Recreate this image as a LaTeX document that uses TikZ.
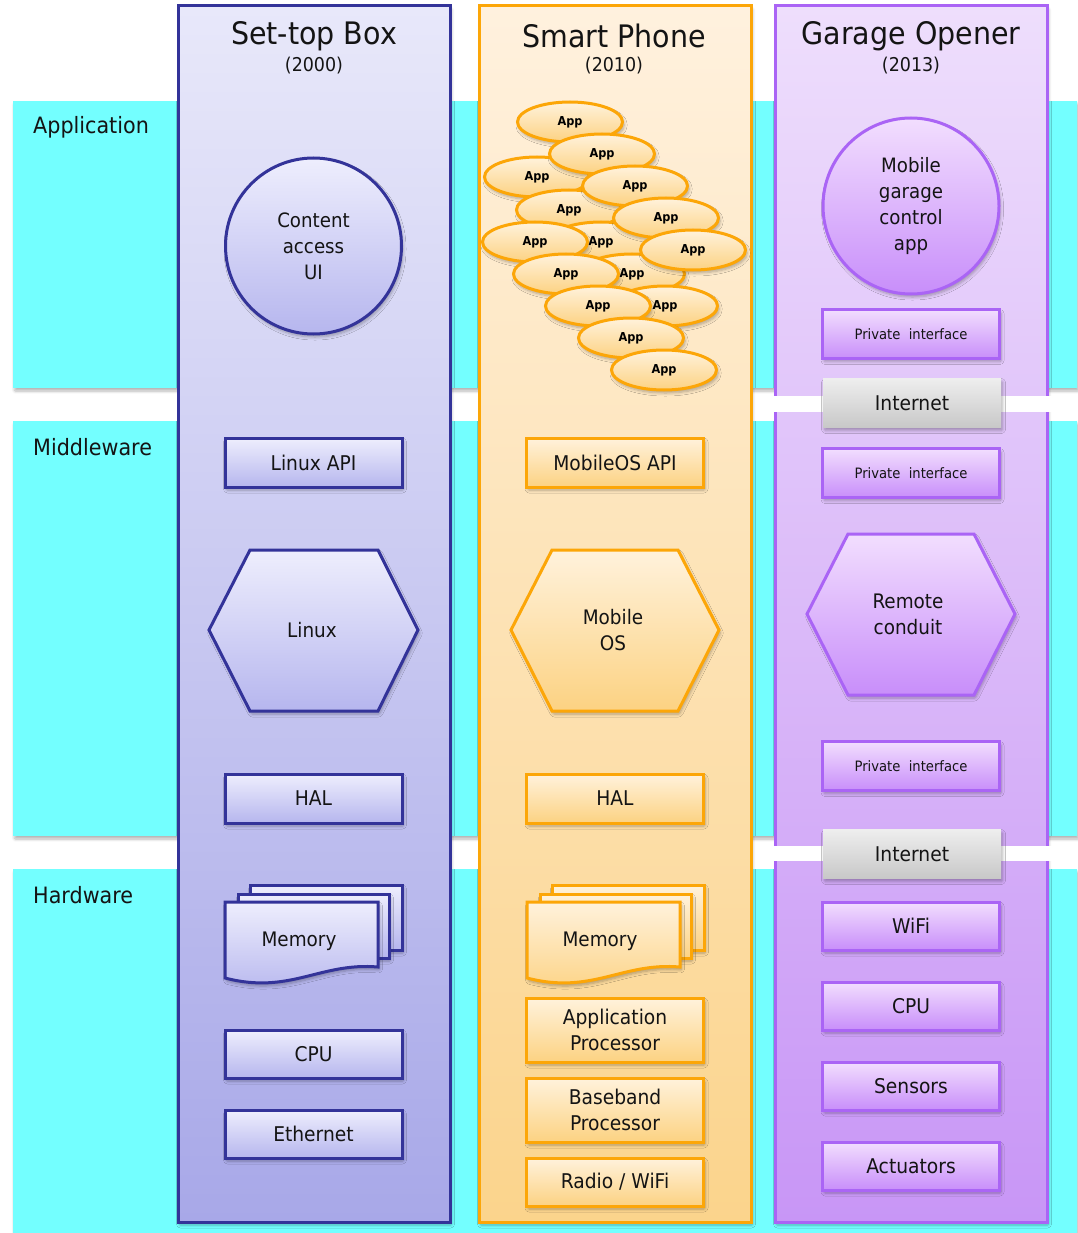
\documentclass[tikz,border=0pt]{standalone}
\usepackage{fontspec}
\setmainfont{DejaVu Sans}[FakeStretch=0.92]
\usetikzlibrary{shadows,shadows.blur,shapes.geometric}

\definecolor{bandcyan}{RGB}{115,255,255}
\definecolor{txt}{RGB}{20,20,20}
\definecolor{stbB}{RGB}{51,51,153}
\definecolor{stbT}{RGB}{232,232,250}
\definecolor{stbBot}{RGB}{168,168,232}
\definecolor{bbT}{RGB}{238,238,253}
\definecolor{bbB}{RGB}{182,182,238}
\definecolor{orB}{RGB}{252,166,8}
\definecolor{phT}{RGB}{255,241,222}
\definecolor{phBot}{RGB}{251,212,140}
\definecolor{obT}{RGB}{255,242,220}
\definecolor{obB}{RGB}{252,210,130}
\definecolor{puB}{RGB}{170,100,245}
\definecolor{gaT}{RGB}{238,222,252}
\definecolor{gaBot}{RGB}{200,150,246}
\definecolor{pbT}{RGB}{242,222,254}
\definecolor{pbB}{RGB}{200,142,250}
\definecolor{inT}{RGB}{238,238,238}
\definecolor{inB}{RGB}{200,200,200}

\begin{document}
\begin{tikzpicture}[x=1pt,y=-1pt,
  shad/.style={blur shadow={shadow blur steps=6,shadow blur extra rounding=1pt,shadow xshift=1.5pt,shadow yshift=-3pt,shadow opacity=30,shadow blur radius=3pt}},
  band/.style={fill=bandcyan,shad},
  bandlbl/.style={anchor=west,inner sep=0pt,text=txt,font=\fontsize{22.5}{26}\selectfont},
  coltitle/.style={text=txt,inner sep=0pt,font=\fontsize{31}{34}\selectfont},
  colyear/.style={text=txt,inner sep=0pt,font=\fontsize{19}{22}\selectfont},
  stbcol/.style={line width=3pt,shad,draw=stbB,top color=stbT,bottom color=stbBot},
  phcol/.style={line width=3pt,shad,draw=orB,top color=phT,bottom color=phBot},
  gacol/.style={line width=3pt,shad,draw=puB,top color=gaT,bottom color=gaBot},
  box/.style={rectangle,line width=3pt,minimum height=49pt,minimum width=177pt,inner sep=0pt,
    align=center,text=txt,font=\fontsize{20.3}{26}\selectfont,shad},
  bbox/.style={box,draw=stbB,top color=bbT,bottom color=bbB},
  obox/.style={box,draw=orB,top color=obT,bottom color=obB},
  pbox/.style={box,draw=puB,top color=pbT,bottom color=pbB},
  pint/.style={pbox,font=\fontsize{14.3}{16}\selectfont},
  inet/.style={box,draw=none,top color=inT,bottom color=inB,minimum width=178pt},
  circ/.style={circle,minimum size=176pt,line width=3pt,inner sep=0pt,align=center,text=txt,
    font=\fontsize{19.8}{26}\selectfont,shad},
  bshape/.style={line width=3pt,draw=stbB,top color=bbT,bottom color=bbB,shad},
  oshape/.style={line width=3pt,draw=orB,top color=obT,bottom color=obB,shad},
  pshape/.style={line width=3pt,draw=puB,top color=pbT,bottom color=pbB,shad},
  lbl/.style={inner sep=0pt,align=center,text=txt,font=\fontsize{20}{26}\selectfont},
  app/.style={ellipse,minimum width=105pt,minimum height=40pt,inner sep=0pt,draw=orB,line width=3pt,
    top color=obT,bottom color=obB,shad,text=black,font=\bfseries\fontsize{12.3}{14}\selectfont}
]
\useasboundingbox (0,0) rectangle (1077,1233);

% ---------- layer bands ----------
\path[band] (13,101) rectangle (1077,388);
\path[band] (13,421) rectangle (1077,836);
\path[band] (13,869) rectangle (1077,1233);
\node[bandlbl] (lapp) at (33,127) {Application};
\node[bandlbl] (lmid) at (33,447) {Middleware};
\node[bandlbl] (lhw) at (33,895) {Hardware};

% ---------- columns ----------
\path[stbcol] (178,6) rectangle (450,1222);
\path[phcol] (479,6) rectangle (751,1222);
\path[gacol] (775,6) rectangle (1047,1222);

% white internet bars
\fill[white] (765,396) rectangle (1054,412);
\fill[white] (765,846) rectangle (1054,861);

% ---------- titles ----------
\node[coltitle] (t1) at (314,36) {Set-top Box};
\node[colyear] (y1) at (314,66) {(2000)};
\node[coltitle] (t2) at (614,36) {Smart Phone};
\node[colyear] (y2) at (614,66) {(2010)};
\node[coltitle] (t3) at (911,36) {Garage Opener};
\node[colyear] (y3) at (911,66) {(2013)};

% ---------- Set-top box ----------
\node[circ,draw=stbB,top color=bbT,bottom color=bbB] (cau) at (313.5,246) {Content\\access\\UI};
\node[bbox] (lapi) at (313.5,462.5) {Linux API};
\path[bshape] (209,630) -- (250,550) -- (378,550) -- (418,630) -- (378,711) -- (250,711) -- cycle;
\node[lbl] (linux) at (312,630) {Linux};
\node[bbox] (hal1) at (313.5,798.5) {HAL};
\path[bshape] (250,885) rectangle (402,950);
\path[bshape] (238,894) rectangle (389,958);
\path[bshape] (225,902) -- (378,902) -- (378,967) .. controls (320,962) and (290,995) .. (225,978) -- cycle;
\node[lbl] (mem1) at (299,941) {Memory};
\node[bbox,minimum height=48pt] (cpu1) at (313.5,1054) {CPU};
\node[bbox,minimum height=48pt] (eth1) at (313.5,1134) {Ethernet};

% ---------- Smart phone ----------
\node[app] (a1) at (570,122) {App};
\node[app] (a3) at (537,177) {App};
\node[app] (a2) at (602,154) {App};
\node[app] (a5) at (569,210) {App};
\node[app] (a4) at (635,186) {App};
\node[app] (a8) at (601,242) {App};
\node[app] (a6) at (666,218) {App};
\node[app] (a7) at (535,242) {App};
\node[app] (a11) at (632,274) {App};
\node[app] (a9) at (693,250) {App};
\node[app] (a10) at (566,274) {App};
\node[app] (a13) at (665,306) {App};
\node[app] (a12) at (598,306) {App};
\node[app] (a14) at (631,338) {App};
\node[app] (a15) at (664,370) {App};

\node[obox] (mapi) at (615,462.5) {MobileOS API};
\path[oshape] (511,630) -- (552,550) -- (678,550) -- (719,630) -- (678,711) -- (552,711) -- cycle;
\node[lbl] (mos) at (613,630) {Mobile\\OS};
\node[obox] (hal2) at (615,798.5) {HAL};
\path[oshape] (552,885) rectangle (704,950);
\path[oshape] (540,894) rectangle (691,958);
\path[oshape] (527,902) -- (680,902) -- (680,967) .. controls (622,962) and (592,995) .. (527,978) -- cycle;
\node[lbl] (mem2) at (600,941) {Memory};
\node[obox,minimum height=64pt] (ap) at (615,1030) {Application\\Processor};
\node[obox,minimum height=64pt] (bp) at (615,1110) {Baseband\\Processor};
\node[obox,minimum height=48pt] (radio) at (615,1182) {Radio / WiFi};

% ---------- Garage opener ----------
\node[circ,draw=puB,top color=pbT,bottom color=pbB] (mgca) at (911,206) {Mobile\\garage\\control\\app};
\node[pint] (pi1) at (911,334) {Private\ \ interface};
\node[inet] (inet1) at (912,403) {Internet};
\node[pint] (pi2) at (911,473) {Private\ \ interface};
\path[pshape] (807,614) -- (848,534) -- (974,534) -- (1015,614) -- (974,695) -- (848,695) -- cycle;
\node[lbl] (rc) at (908,614) {Remote\\conduit};
\node[pint] (pi3) at (911,766) {Private\ \ interface};
\node[inet] (inet2) at (912,854) {Internet};
\node[pbox,minimum height=48pt] (wifi) at (911,926) {WiFi};
\node[pbox,minimum height=48pt] (cpu3) at (911,1006) {CPU};
\node[pbox,minimum height=48pt] (sens) at (911,1086) {Sensors};
\node[pbox,minimum height=48pt] (act) at (911,1166) {Actuators};
\end{tikzpicture}
\end{document}
